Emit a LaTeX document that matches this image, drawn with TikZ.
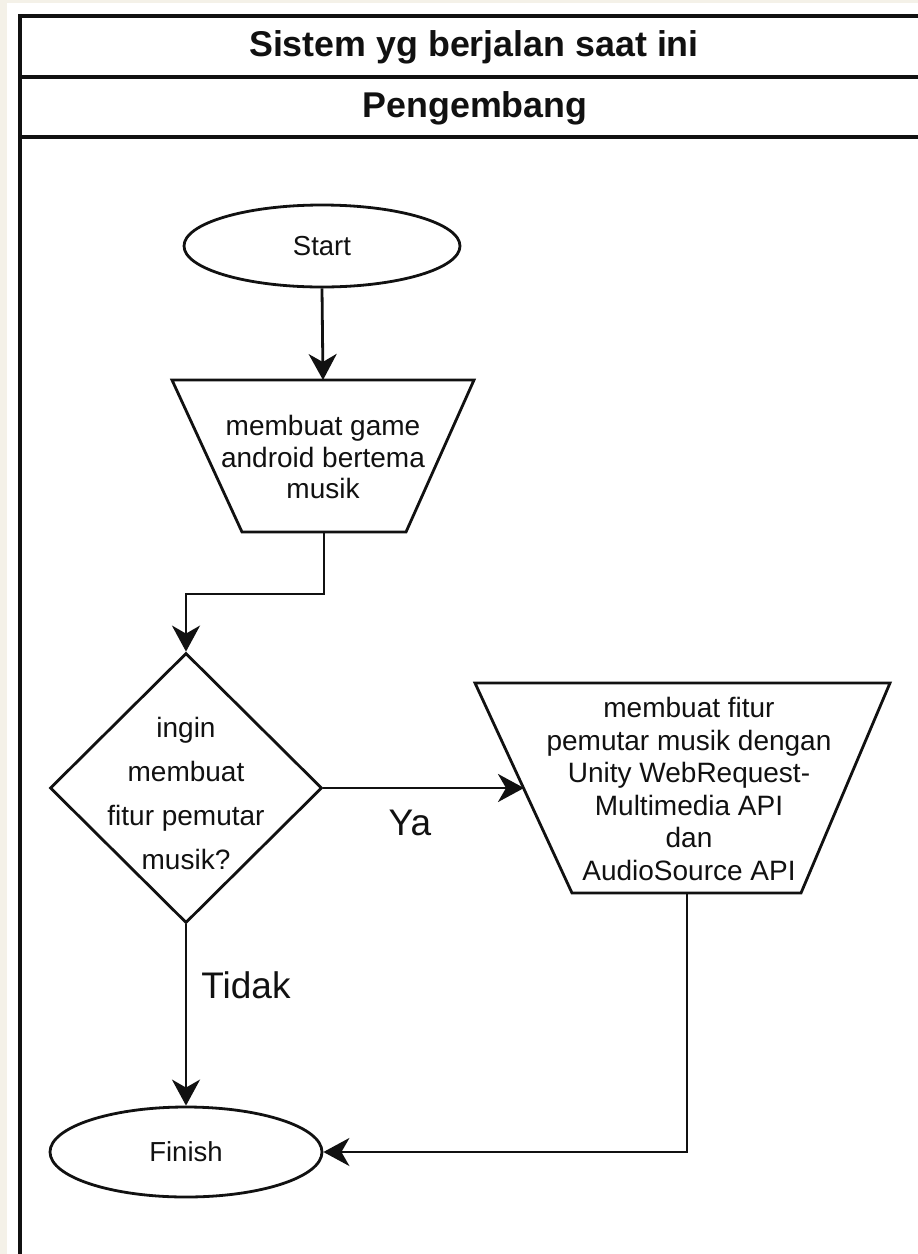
\documentclass[tikz,border=0pt]{standalone}
\usepackage{fontspec}
\setmainfont{Liberation Sans}
\usetikzlibrary{shapes.geometric,arrows.meta}
\definecolor{pagebg}{HTML}{F4F1E8}
\definecolor{ink}{HTML}{111111}
\tikzset{
  shapeline/.style={draw=ink, line width=2.8pt, line join=miter},
  conn/.style={draw=ink, line width=2.8pt, -{Stealth[length=26pt,width=28pt,inset=8pt]}},
  tbl/.style={draw=ink, line width=3.4pt},
  body/.style={font=\fontsize{28pt}{31.5pt}\selectfont, text=ink, align=center, inner sep=0pt},
  dbody/.style={font=\fontsize{28pt}{44pt}\selectfont, text=ink, align=center, inner sep=0pt},
  big/.style={font=\fontsize{37pt}{40pt}\selectfont, text=ink, inner sep=0pt},
  head/.style={font=\fontsize{35.8pt}{40pt}\selectfont\bfseries, text=ink, inner sep=0pt},
  terminal/.style={shapeline, ellipse, inner sep=0pt, font=\fontsize{27.5pt}{31.5pt}\selectfont, text=ink},
  decision/.style={shapeline, diamond, inner sep=0pt},
}
\begin{document}
\begin{tikzpicture}[x=1pt,y=-1pt]
\useasboundingbox (0,0) rectangle (918,1254);
\fill[pagebg] (0,0) rectangle (918,1254);
\fill[white] (7,3) rectangle (918,1254);
% swimlane table
\draw[tbl] (918,16) -- (20,16) -- (20,1256);
\draw[tbl] (20,77) -- (918,77);
\draw[tbl] (20,137) -- (918,137);
\node[head] (title) at (474,47) {Sistem yg berjalan saat ini};
\node[head] (lane) at (475,108) {Pengembang};
% start
\node[terminal, minimum width=276, minimum height=82] (start) at (322,246) {Start};
% trapezoid 1
\draw[shapeline] (172,380) -- (474,380) -- (406,532) -- (242,532) -- cycle;
\coordinate (t1n) at (323,380);
\coordinate (t1s) at (324,532);
\node[body] (t1text) at (323,457) {membuat game\\android bertema\\musik};
% decision
\node[decision, minimum width=272, minimum height=270] (dec) at (186,788) {};
\node[dbody] (dectext) at (186,793) {ingin\\membuat\\fitur pemutar\\musik?};
% trapezoid 2
\draw[shapeline] (475,683) -- (890,683) -- (801,893) -- (572,893) -- cycle;
\coordinate (t2w) at (524,788);
\coordinate (t2s) at (687,893);
\node[body, font=\fontsize{28pt}{32.6pt}\selectfont] (t2text) at (689,789) {membuat fitur\\pemutar musik dengan\\Unity WebRequest-\\Multimedia API\\dan\\AudioSource API};
% finish
\node[terminal, minimum width=272, minimum height=90] (fin) at (186,1152) {Finish};
% labels
\node[big] (ya) at (410,823) {Ya};
\node[big] (tidak) at (246,985) {Tidak};
% connectors
\draw[conn] (start.south) -- (t1n);
\draw[conn] (t1s) -- ++(0,62) -| (dec.north);
\draw[conn] (dec.east) -- (t2w);
\draw[conn] (dec.south) -- (fin.north);
\draw[conn] (t2s) |- (fin.east);
\end{tikzpicture}
\end{document}
